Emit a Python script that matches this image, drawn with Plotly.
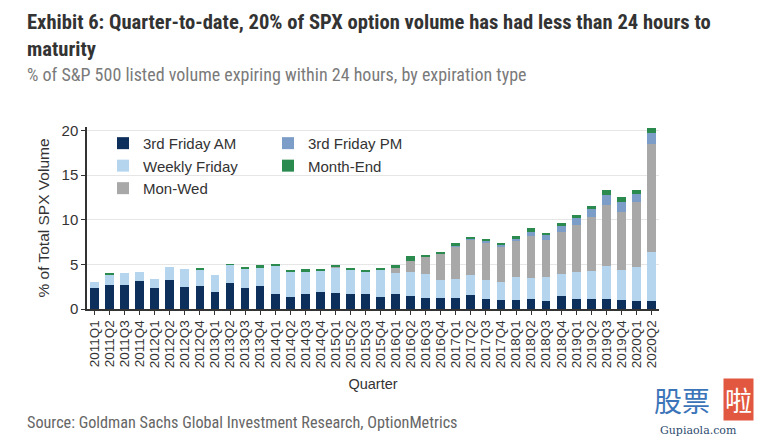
import plotly.graph_objects as go

quarters = [f"{y}Q{q}" for y in range(2011, 2021) for q in range(1, 5)][:38]

fri_am = [2.33, 2.74, 2.74, 3.16, 2.33, 3.27, 2.48, 2.60, 1.95, 2.90, 2.33, 2.63,
          1.65, 1.34, 1.64, 1.94, 1.79, 1.64, 1.64, 1.34, 1.66, 1.42, 1.21, 1.23,
          1.23, 1.55, 1.17, 1.05, 1.05, 1.08, 0.95, 1.45, 1.16, 1.16, 1.16, 0.97,
          0.90, 0.86]
weekly_fri = [0.67, 1.16, 1.32, 1.04, 1.05, 1.43, 1.96, 1.76, 1.81, 2.05, 2.22, 2.07,
              3.23, 2.83, 2.56, 2.38, 2.90, 2.68, 2.46, 3.09, 2.39, 2.78, 2.67, 1.97,
              2.15, 2.22, 2.10, 1.98, 2.50, 2.34, 2.67, 2.42, 2.94, 3.06, 3.69, 3.40,
              3.80, 5.48]
mon_wed = [0, 0, 0, 0, 0, 0, 0, 0, 0, 0, 0, 0,
           0.05, 0.05, 0, 0, 0.05, 0, 0, 0.05, 0.60, 1.20, 2.05, 2.97,
           3.67, 3.98, 4.23, 3.99, 4.17, 4.76, 4.15, 4.73, 5.34, 6.04, 6.83, 6.49,
           7.28, 12.13]
fri_pm = [0, 0, 0, 0, 0, 0, 0, 0, 0, 0, 0, 0,
          0, 0, 0, 0, 0, 0, 0, 0, 0, 0, 0, 0,
          0.10, 0.17, 0.14, 0.18, 0.15, 0.50, 0.62, 0.70, 0.75, 0.97, 1.12, 1.08,
          0.89, 1.31]
month_end = [0, 0.08, 0, 0, 0, 0, 0, 0.26, 0, 0.05, 0.10, 0.19,
             0.08, 0.08, 0.23, 0.22, 0.13, 0.30, 0.30, 0.10, 0.23, 0.50, 0.12, 0.13,
             0.22, 0.12, 0.22, 0.20, 0.30, 0.35, 0.05, 0.35, 0.37, 0.26, 0.52, 0.56,
             0.45, 0.48]

y_ticks = [0, 5, 10, 15, 20]

C_AM = "#0c2f5b"
C_WK = "#b5d5ef"
C_MW = "#a8a8a8"
C_PM = "#7b9dc8"
C_ME = "#2b8a4e"

NARROW = "Liberation Sans Narrow, Arial Narrow, Roboto Condensed, sans-serif"
SANS = "Liberation Sans, Arial, sans-serif"

# page body margin shifts the figure by 8px; layout below is in screen pixels
OFF = 8
W, H = 768 - OFF, 442 - OFF
SX0, SX1, SY0, SY1 = 87, 659, 127.1, 309.3   # plot area on screen
def px(x):
    return (x - SX0) / (SX1 - SX0)
def py(y):
    return (SY1 - y) / (SY1 - SY0)

fig = go.Figure()
series = [
    ("3rd Friday AM", fri_am, C_AM, "legend"),
    ("Weekly Friday", weekly_fri, C_WK, "legend"),
    ("Mon-Wed", mon_wed, C_MW, "legend"),
    ("3rd Friday PM", fri_pm, C_PM, "legend2"),
    ("Month-End", month_end, C_ME, "legend2"),
]
for name, vals, col, lg in series:
    fig.add_trace(go.Bar(x=quarters, y=vals, name=name, marker_color=col,
                         marker_line_width=0, legend=lg, legendgroup=name))

legend_common = dict(font=dict(family=SANS, size=15, color="#333333"),
                     bgcolor="rgba(0,0,0,0)", traceorder="grouped",
                     tracegroupgap=0, itemwidth=30, yanchor="top")

fig.update_layout(
    width=W, height=H,
    margin=dict(l=SX0 - OFF, r=W - (SX1 - OFF), t=SY0 - OFF, b=H - (SY1 - OFF), autoexpand=False),
    paper_bgcolor="white", plot_bgcolor="white",
    barmode="stack", bargap=0.42,
    showlegend=True,
    legend=dict(x=px(103), y=py(127), xanchor="left", **legend_common),
    legend2=dict(x=px(268), y=py(127), xanchor="left", **legend_common),
    font=dict(family=SANS, color="#333333"),
    xaxis=dict(
        type="category", tickangle=-90, automargin=False,
        tickmode="array", tickvals=quarters, ticktext=quarters,
        tickfont=dict(family=SANS, size=13.5, color="#333333"),
        ticks="outside", ticklen=4, tickcolor="#333333",
        showline=True, linecolor="#333333", linewidth=1.5,
        showgrid=False,
        title=dict(text="Quarter", font=dict(family=SANS, size=14.5, color="#333333"), standoff=12),
    ),
    yaxis=dict(
        range=[0, 20.4], tickvals=y_ticks, automargin=False,
        tickfont=dict(family=SANS, size=15, color="#333333"),
        ticks="outside", ticklen=4, tickcolor="#333333",
        showline=True, linecolor="#333333", linewidth=1.5,
        showgrid=True, gridcolor="#e6e6e6", gridwidth=1,
        zeroline=False,
        title=dict(text="% of Total SPX Volume", font=dict(family=SANS, size=15.5, color="#333333"), standoff=8),
    ),
)

anns = [
    dict(text="<b>Exhibit 6: Quarter-to-date, 20% of SPX option volume has had less than 24 hours to</b>",
         x=px(25), y=py(22), font=dict(family=NARROW, size=20.6, color="#333333")),
    dict(text="<b>maturity</b>",
         x=px(25), y=py(49), font=dict(family=NARROW, size=20.6, color="#333333")),
    dict(text="% of S&P 500 listed volume expiring within 24 hours, by expiration type",
         x=px(25), y=py(75), font=dict(family=NARROW, size=18, color="#7a7a7a")),
    dict(text="Source: Goldman Sachs Global Investment Research, OptionMetrics",
         x=px(25), y=py(423), font=dict(family=NARROW, size=16.2, color="#666666")),
    dict(text="股票", x=px(652), y=py(400),
         font=dict(family="Noto Sans CJK SC", size=28, color="#3b74b8")),
    dict(text="啦", x=px(723), y=py(400), bgcolor="#e2573f", borderpad=1,
         font=dict(family="Noto Sans CJK SC", size=27, color="white")),
    dict(text="Gupiaola.com", x=px(658), y=py(431),
         font=dict(family="DejaVu Serif, serif", size=11, color="#2d4b6e")),
]
for a in anns:
    fig.add_annotation(xref="paper", yref="paper", xanchor="left", yanchor="middle",
                       showarrow=False, **a)

fig.write_html("out.html")
